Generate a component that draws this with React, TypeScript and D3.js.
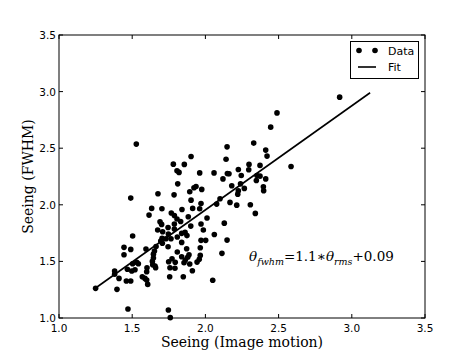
import React from "react";
import * as d3 from "d3";

const seeingRms = [
  1.528, 2.489, 2.446, 2.585, 2.33, 2.412, 2.421, 2.148, 2.141, 1.902,
  1.781, 1.856, 1.806, 1.82, 1.961, 2.059, 2.15, 2.161, 2.225, 2.298,
  2.296, 2.373, 2.12, 2.245, 2.352, 2.373, 2.348, 2.412, 2.396, 2.398,
  2.307, 2.341, 1.811, 1.936, 1.922, 1.975, 1.893, 2.18, 2.24, 2.266,
  2.225, 2.221, 1.786, 1.902, 2.1, 1.97, 2.077, 2.168, 2.214, 1.84,
  1.913, 1.961, 1.767, 1.883, 2.011, 1.788, 1.806, 1.831, 1.676, 1.49,
  1.633, 1.703, 1.615, 1.69, 1.701, 1.745, 1.788, 1.788, 1.674, 1.708,
  1.9, 1.97, 2.129, 1.747, 1.704, 1.731, 1.765, 1.808, 1.861, 1.874,
  1.986, 1.838, 2.061, 2.148, 1.838, 1.97, 2.002, 1.695, 1.706, 1.745,
  1.872, 1.965, 1.808, 1.888, 1.879, 1.838, 1.965, 2.113, 1.772, 1.749,
  1.794, 1.863, 1.854, 1.893, 1.958, 1.943, 1.911, 1.756, 1.849, 2.05,
  1.747, 1.76, 1.758, 1.792, 1.503, 1.444, 1.49, 1.444, 1.594, 1.663,
  1.652, 1.645, 1.645, 1.638, 1.64, 1.656, 1.66, 1.531, 1.503, 1.542,
  1.467, 1.519, 1.497, 1.38, 1.601, 1.599, 1.38, 1.41, 1.46, 1.49,
  1.569, 1.587, 1.599, 1.606, 1.25, 1.396, 1.471, 2.917,
];
const seeingFwhm = [
  2.536, 2.812, 2.686, 2.339, 2.545, 2.483, 2.43, 2.512, 2.403, 2.427,
  2.359, 2.357, 2.3, 2.286, 2.282, 2.282, 2.277, 2.274, 2.312, 2.357,
  2.309, 2.348, 2.229, 2.259, 2.259, 2.253, 2.215, 2.229, 2.159, 2.124,
  2.0, 1.924, 2.185, 2.162, 2.15, 2.136, 2.115, 2.168, 2.185, 2.145,
  2.124, 2.094, 2.088, 2.041, 2.053, 2.012, 2.006, 2.021, 1.997, 1.959,
  1.968, 1.965, 1.927, 1.894, 1.883, 1.905, 1.874, 1.852, 2.097, 2.059,
  1.968, 1.965, 1.909, 1.85, 1.827, 1.8, 1.83, 1.786, 1.777, 1.762,
  1.812, 1.83, 1.838, 1.741, 1.703, 1.7, 1.7, 1.715, 1.756, 1.728,
  1.777, 1.748, 1.737, 1.688, 1.668, 1.686, 1.686, 1.68, 1.66, 1.629,
  1.612, 1.62, 1.583, 1.559, 1.536, 1.541, 1.553, 1.571, 1.523, 1.497,
  1.492, 1.512, 1.488, 1.477, 1.518, 1.494, 1.417, 1.365, 1.365, 1.333,
  1.071, 1.003, 1.444, 1.439, 1.724, 1.624, 1.606, 1.559, 1.609, 1.631,
  1.591, 1.564, 1.53, 1.5, 1.47, 1.459, 1.444, 1.492, 1.479, 1.479,
  1.43, 1.426, 1.415, 1.415, 1.444, 1.409, 1.386, 1.35, 1.327, 1.327,
  1.365, 1.35, 1.335, 1.297, 1.262, 1.253, 1.079, 2.951,
];

// fitted line end points
const fitX = [1.25, 3.125];
const fitY = [1.265, 2.99];

const ticks = [1.0, 1.5, 2.0, 2.5, 3.0, 3.5];

const W = 472;
const H = 354;
const margin = { top: 35, right: 47, bottom: 36, left: 59 };

const App = () => {
  const x = d3.scaleLinear().domain([1, 3.5]).range([margin.left, W - margin.right]);
  const y = d3.scaleLinear().domain([1, 3.5]).range([H - margin.bottom, margin.top]);
  const fmt = d3.format(".1f");
  const line = d3
    .line<number>()
    .x((d) => x(d))
    .y((_, i) => y(fitY[i]));

  const left = x(1);
  const right = x(3.5);
  const top = y(3.5);
  const bottom = y(1);
  const tk = 4;
  const sans = "DejaVu Sans, sans-serif";
  const serif = "DejaVu Serif, serif";

  return (
    <svg
      width={W}
      height={H}
      style={{ position: "absolute", left: 0, top: 0, background: "#fff" }}
    >
      {/* points */}
      {seeingRms.map((d, i) => (
        <circle key={i} cx={x(d)} cy={y(seeingFwhm[i])} r={2.8} fill="#000" />
      ))}
      {/* fit */}
      <path d={line(fitX) || ""} fill="none" stroke="#000" strokeWidth={1.6} />

      {/* frame */}
      <rect
        x={left}
        y={top}
        width={right - left}
        height={bottom - top}
        fill="none"
        stroke="#000"
        strokeWidth={1}
      />

      {/* x ticks */}
      {ticks.map((t) => (
        <g key={"x" + t}>
          <line x1={x(t)} x2={x(t)} y1={bottom} y2={bottom - tk} stroke="#000" />
          <line x1={x(t)} x2={x(t)} y1={top} y2={top + tk} stroke="#000" />
          <text
            x={x(t)}
            y={bottom + 14}
            textAnchor="middle"
            fontFamily={sans}
            fontSize={10.5}
          >
            {fmt(t)}
          </text>
        </g>
      ))}
      {/* y ticks */}
      {ticks.map((t) => (
        <g key={"y" + t}>
          <line x1={left} x2={left + tk} y1={y(t)} y2={y(t)} stroke="#000" />
          <line x1={right} x2={right - tk} y1={y(t)} y2={y(t)} stroke="#000" />
          <text
            x={left - 3}
            y={y(t) + 4}
            textAnchor="end"
            fontFamily={sans}
            fontSize={10.5}
          >
            {fmt(t)}
          </text>
        </g>
      ))}

      {/* axis labels */}
      <text
        x={(left + right) / 2}
        y={347}
        textAnchor="middle"
        fontFamily={serif}
        fontSize={14}
      >
        Seeing (Image motion)
      </text>
      <text
        transform={`translate(33, ${(top + bottom) / 2}) rotate(-90)`}
        textAnchor="middle"
        fontFamily={serif}
        fontSize={14}
      >
        Seeing (FWHM)
      </text>

      {/* formula */}
      <text x={249} y={261} fontFamily={serif} fontSize={13.5}>
        <tspan fontStyle="italic">θ</tspan>
        <tspan fontStyle="italic" fontSize={9.5} dy={4}>fwhm</tspan>
        <tspan dy={-4}>=1.1∗</tspan>
        <tspan fontStyle="italic">θ</tspan>
        <tspan fontStyle="italic" fontSize={9.5} dy={4}>rms</tspan>
        <tspan dy={-4}>+0.09</tspan>
      </text>

      {/* legend */}
      <g>
        <rect x={350.5} y={41.5} width={68} height={37} fill="#fff" stroke="#000" />
        <circle cx={359} cy={50.5} r={2.8} fill="#000" />
        <circle cx={375} cy={50.5} r={2.8} fill="#000" />
        <text x={388} y={55} fontFamily={sans} fontSize={11}>Data</text>
        <line x1={358} x2={376} y1={67} y2={67} stroke="#000" strokeWidth={1.6} />
        <text x={388} y={71} fontFamily={sans} fontSize={11}>Fit</text>
      </g>
    </svg>
  );
};

export default App;
